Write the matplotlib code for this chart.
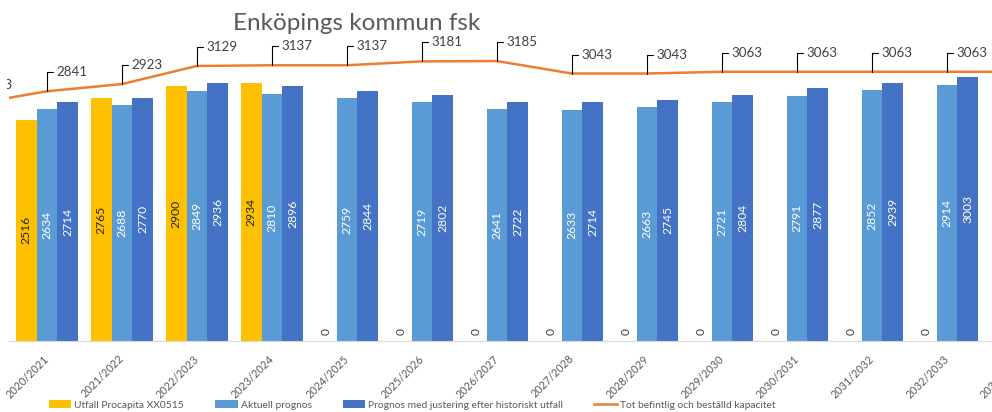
import numpy as np
import matplotlib.pyplot as plt
from matplotlib.transforms import Bbox

plt.rcParams['font.family'] = ['Lato', 'DejaVu Sans']

# ---------- data ----------
seasons = ['2020/2021', '2021/2022', '2022/2023', '2023/2024', '2024/2025',
           '2025/2026', '2026/2027', '2027/2028', '2028/2029', '2029/2030',
           '2030/2031', '2031/2032', '2032/2033', '2033/2034']
utfall = [2516, 2765, 2900, 2934, 0, 0, 0, 0, 0, 0, 0, 0, 0]
aktuell = [2634, 2688, 2849, 2810, 2759, 2719, 2641, 2633, 2663, 2721, 2791, 2852, 2914]
justerad = [2714, 2770, 2936, 2896, 2844, 2802, 2722, 2714, 2745, 2804, 2877, 2939, 3003]
kap_prev = 2693  # 2019/2020, only the end of its label is visible
kapacitet = [2841, 2923, 3129, 3137, 3137, 3181, 3185, 3043, 3043, 3063, 3063, 3063, 3063, 3063]

YELLOW = '#FFC000'
LBLUE = '#5B9BD5'
DBLUE = '#4472C4'
ORANGE = '#ED7D31'

W, H = 992, 412
px_per_unit = 0.0879
ymax = 3500

fig = plt.figure(figsize=(W / 100, H / 100), dpi=100)
ax = fig.add_axes([9.35 / W, 71 / H, 14 * 75 / W, ymax * px_per_unit / H])
ax.set_xlim(-0.5, 13.5)
ax.set_ylim(0, ymax)

x = np.arange(len(utfall))
bw = 0.275
b1 = ax.bar(x - bw, utfall, bw, color=YELLOW, label='Utfall Procapita XX0515')
b2 = ax.bar(x, aktuell, bw, color=LBLUE, label='Aktuell prognos')
b3 = ax.bar(x + bw, justerad, bw, color=DBLUE,
            label='Prognos med justering efter historiskt utfall')

# bar labels
for bars, vals, col in [(b1, utfall, '#262626'), (b2, aktuell, 'white'), (b3, justerad, 'white')]:
    for rect, v in zip(bars, vals):
        cx = rect.get_x() + rect.get_width() / 2
        if v > 0:
            ax.text(cx, v / 2, str(v), rotation=90, ha='center', va='center',
                    color=col, fontsize=8.7)
        else:
            ax.annotate('0', xy=(cx, 0), xytext=(0, 9.5), textcoords='offset pixels',
                        rotation=90, ha='center', va='center', color='#404040', fontsize=8.7)

# capacity line (one point before and the last point run past the crop)
xl = np.arange(-1, len(kapacitet))
yl = [kap_prev] + kapacitet
ln, = ax.plot(xl, yl, color=ORANGE, lw=1.8, label='Tot befintlig och beställd kapacitet')

for xi, v in zip(xl, yl):
    a = ax.annotate(str(v), xy=(xi, v), xytext=(10, 19), textcoords='offset pixels',
                    ha='left', va='center', fontsize=9.6, color='#404040',
                    annotation_clip=False,
                    arrowprops=dict(arrowstyle='-', color='black', lw=0.8,
                                    connectionstyle='angle,angleA=0,angleB=90,rad=0',
                                    shrinkA=3, shrinkB=0, relpos=(0, 0.5), patchA=None))
    if xi < 0:
        # the chart was cropped here: only the last digit shows
        a.set_clip_on(True)
        a.set_clip_box(Bbox.from_extents(6.5, 0, W, H))

# axes styling
for s in ['left', 'right', 'top']:
    ax.spines[s].set_visible(False)
ax.spines['bottom'].set_color('#D9D9D9')
ax.spines['bottom'].set_linewidth(0.8)
ax.set_yticks([])
ax.set_xticks(np.arange(len(seasons)))
ax.set_xticklabels(seasons, rotation=45, ha='right', rotation_mode='anchor',
                   va='center', fontsize=7.8, color='#595959')
ax.tick_params(axis='x', length=0, pad=11.5)

fig.text(357 / W, 1 - 24 / H, 'Enköpings kommun fsk', ha='center', va='center',
         fontsize=17.5, color='#595959')

fig.legend(handles=[b1, b2, b3, ln], loc='center', bbox_to_anchor=(412 / W, 1 - 405 / H),
           ncol=4, frameon=False, fontsize=7.4, handlelength=2.2, handletextpad=0.3,
           columnspacing=3.0, labelcolor='#595959')

fig.savefig('out.png', dpi=100)
